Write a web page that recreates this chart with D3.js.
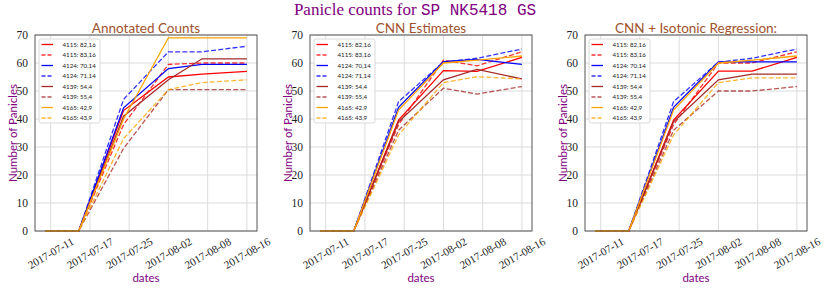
<!DOCTYPE html>
<meta charset="utf-8">
<script src="https://d3js.org/d3.v7.min.js"></script>
<style>
  body { margin: 0; background: #fff; }
</style>
<div id="chart"></div>
<script>
    var width = 830
    var height = 302

    // data: observation dates, and the (shifted) positions matplotlib put the labels on
    var dates = ["2017-07-11", "2017-07-17", "2017-07-25", "2017-08-02", "2017-08-08", "2017-08-16"]
    var tickPositions = ["2017-07-12", "2017-07-19", "2017-07-26", "2017-08-02", "2017-08-09", "2017-08-16"]
    var tickLabels = dates
    var yTicks = [0, 10, 20, 30, 40, 50, 60, 70]

    var seriesNames = ["4115: 82,16", "4115: 83,16", "4124: 70,14", "4124: 71,14",
        "4139: 54,4", "4139: 55,4", "4165: 42,9", "4165: 43,9"]
    var seriesColors = ["red", "red", "blue", "blue", "brown", "brown", "orange", "orange"]
    var seriesDashed = [false, true, false, true, false, true, false, true]

    var annotated = [
        [0, 0, 43, 55, 56, 57],
        [0, 0, 38, 59.5, 60, 60],
        [0, 0, 44, 58, 59.5, 59.5],
        [0, 0, 47, 64, 64, 66],
        [0, 0, 41, 54, 61.5, 61.5],
        [0, 0, 29.5, 50.5, 50.5, 50.5],
        [0, 0, 40, 69, 69, 69],
        [0, 0, 33, 50.5, 53, 54]
    ]
    var cnn = [
        [0, 0, 39.6, 57.3, 57, 62],
        [0, 0, 38, 61, 59, 64],
        [0, 0, 44.2, 60.5, 61.3, 59.5],
        [0, 0, 46.2, 60.3, 61.7, 65],
        [0, 0, 39, 54, 57.7, 54.3],
        [0, 0, 36, 51, 48.9, 51.6],
        [0, 0, 43.2, 60, 61, 62.5],
        [0, 0, 34.3, 53, 55.1, 54.3]
    ]
    var isotonic = [
        [0, 0, 39.6, 57.1, 57.1, 62],
        [0, 0, 38, 60, 60, 64],
        [0, 0, 44.2, 60.4, 60.4, 60.4],
        [0, 0, 46.2, 60.3, 61.7, 65],
        [0, 0, 39, 54, 56, 56],
        [0, 0, 36, 50, 50, 51.6],
        [0, 0, 43.2, 60, 61, 62.5],
        [0, 0, 34.3, 53, 54.7, 54.7]
    ]

    var panels = [
        { title: "Annotated Counts", values: annotated, left: 35 },
        { title: "CNN Estimates", values: cnn, left: 310 },
        { title: "CNN + Isotonic Regression:", values: isotonic, left: 585 }
    ]

    var parse = d3.timeParse("%Y-%m-%d")
    var purple = "#800080"
    var plotW = 222, plotTop = 35, plotBottom = 231

    var svg = d3.select("#chart")
        .append("svg")
        .attr("width", width)
        .attr("height", height)
        .style("background", "#fff")

    // main title: serif text followed by a monospace part
    var title = svg.append("text")
        .attr("x", width / 2)
        .attr("y", 15)
        .attr("text-anchor", "middle")
        .attr("fill", purple)
        .style("font-size", "17px")
    title.append("tspan").attr("font-family", "Liberation Serif, serif").text("Panicle counts for ")
    title.append("tspan").attr("font-family", "Liberation Mono, monospace").style("font-size", "16px").text("SP NK5418 GS")

    var first = parse(dates[0]), last = parse(dates[dates.length - 1])
    var span = last - first
    var y = d3.scaleLinear().domain([0, 70]).range([plotBottom, plotTop])

    panels.forEach(function (p) {
        var x = d3.scaleTime()
            .domain([new Date(+first - span * 0.05), new Date(+last + span * 0.05)])
            .range([p.left, p.left + plotW])

        var g = svg.append("g")

        // grid
        g.selectAll(".gx").data(tickPositions).enter().append("line")
            .attr("x1", function (d) { return x(parse(d)) })
            .attr("x2", function (d) { return x(parse(d)) })
            .attr("y1", plotTop).attr("y2", plotBottom)
            .attr("stroke", "#dcdcdc").attr("stroke-width", 1)
        g.selectAll(".gy").data(yTicks).enter().append("line")
            .attr("x1", p.left).attr("x2", p.left + plotW)
            .attr("y1", function (d) { return y(d) })
            .attr("y2", function (d) { return y(d) })
            .attr("stroke", "#dcdcdc").attr("stroke-width", 1)

        // lines
        var line = d3.line()
            .x(function (d, i) { return x(parse(dates[i])) })
            .y(function (d) { return y(d) })

        p.values.forEach(function (vals, k) {
            g.append("path")
                .datum(vals)
                .attr("d", line)
                .attr("fill", "none")
                .attr("stroke", seriesColors[k])
                .attr("stroke-width", 1.3)
                .attr("stroke-opacity", seriesDashed[k] ? 0.8 : 1)
                .attr("stroke-dasharray", seriesDashed[k] ? "5,2.2" : null)
        })

        // frame
        g.append("rect")
            .attr("x", p.left).attr("y", plotTop)
            .attr("width", plotW).attr("height", plotBottom - plotTop)
            .attr("fill", "none").attr("stroke", "#555").attr("stroke-width", 1)

        // y tick labels
        g.selectAll(".yl").data(yTicks).enter().append("text")
            .attr("x", p.left - 7)
            .attr("y", function (d) { return y(d) })
            .attr("dy", "0.35em")
            .attr("text-anchor", "end")
            .attr("font-family", "Liberation Serif, serif")
            .style("font-size", "11.5px")
            .attr("fill", "#222")
            .text(function (d) { return d })

        // x tick labels, rotated 30 deg
        g.selectAll(".xl").data(tickPositions).enter().append("text")
            .attr("transform", function (d) { return "translate(" + x(parse(d)) + ",253) rotate(-30)" })
            .attr("text-anchor", "middle")
            .attr("dominant-baseline", "central")
            .attr("font-family", "Liberation Serif, serif")
            .style("font-size", "11px")
            .attr("fill", "#222")
            .text(function (d, i) { return tickLabels[i] })

        // subplot title
        g.append("text")
            .attr("x", p.left + plotW / 2).attr("y", 33)
            .attr("text-anchor", "middle")
            .attr("font-family", "Lato, sans-serif")
            .style("font-size", "13.5px")
            .attr("fill", "#a0522d")
            .text(p.title)

        // axis labels
        g.append("text")
            .attr("x", p.left + plotW / 2).attr("y", 282)
            .attr("text-anchor", "middle")
            .attr("font-family", "Lato, sans-serif")
            .style("font-size", "11.5px")
            .attr("fill", purple)
            .text("dates")
        g.append("text")
            .attr("transform", "translate(" + (p.left - 18) + "," + ((plotTop + plotBottom) / 2) + ") rotate(-90)")
            .attr("text-anchor", "middle")
            .attr("font-family", "Lato, sans-serif")
            .style("font-size", "11.5px")
            .attr("fill", purple)
            .text("Number of Panicles")

        // legend
        var lg = g.append("g").attr("transform", "translate(" + (p.left + 4) + "," + (plotTop + 4) + ")")
        lg.append("rect")
            .attr("width", 61).attr("height", 84).attr("rx", 2)
            .attr("fill", "#fff").attr("fill-opacity", 0.85)
            .attr("stroke", "#d0d0d0").attr("stroke-width", 0.8)
        seriesNames.forEach(function (name, k) {
            var ry = 5.5 + k * 10.5
            lg.append("line")
                .attr("x1", 2.5).attr("x2", 14)
                .attr("y1", ry).attr("y2", ry)
                .attr("stroke", seriesColors[k])
                .attr("stroke-width", 1.3)
                .attr("stroke-opacity", seriesDashed[k] ? 0.8 : 1)
                .attr("stroke-dasharray", seriesDashed[k] ? "4,2" : null)
            lg.append("text")
                .attr("x", 23.5).attr("y", ry)
                .attr("dy", "0.35em")
                .attr("font-family", "Lato, sans-serif")
                .style("font-size", "6.2px")
                .attr("fill", "#222")
                .text(name)
        })
    })
</script>
